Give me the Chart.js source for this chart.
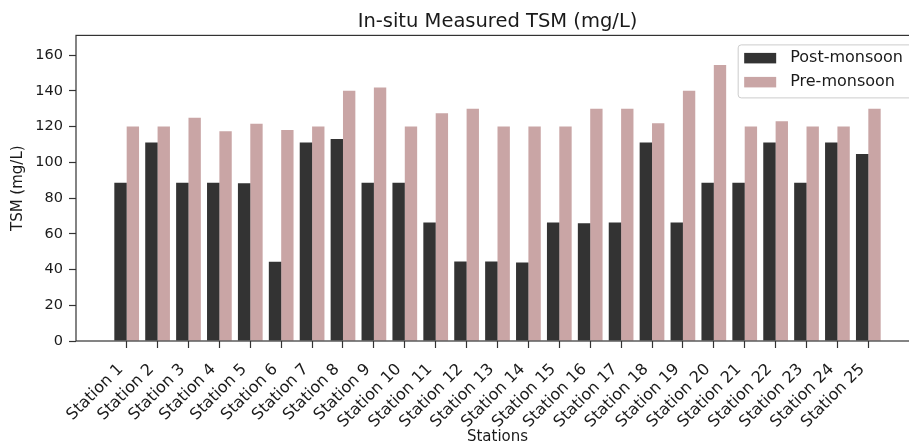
<!DOCTYPE html>
<html>
<head>
<meta charset="utf-8">
<title>In-situ Measured TSM</title>
<script src="https://cdn.jsdelivr.net/npm/chart.js@4.4.1/dist/chart.umd.min.js"></script>
<style>
  html, body { margin: 0; padding: 0; background: #fff; overflow: hidden; }
  canvas { display: block; }
</style>
</head>
<body>
<canvas id="tsmChart" width="919" height="446"></canvas>
<script>
// sampling stations along the x axis
const stations = [
  'Station 1', 'Station 2', 'Station 3', 'Station 4', 'Station 5',
  'Station 6', 'Station 7', 'Station 8', 'Station 9', 'Station 10',
  'Station 11', 'Station 12', 'Station 13', 'Station 14', 'Station 15',
  'Station 16', 'Station 17', 'Station 18', 'Station 19', 'Station 20',
  'Station 21', 'Station 22', 'Station 23', 'Station 24', 'Station 25'
];

// TSM in mg/L
const postMonsoon = [
  88.5, 111.1, 88.5, 88.5, 88.2, 44.3, 111.1, 113.1, 88.5, 88.5,
  66.3, 44.5, 44.5, 43.9, 66.3, 65.9, 66.3, 111.1, 66.3, 88.5,
  88.5, 111.1, 88.5, 111.1, 104.7
];
const preMonsoon = [
  120, 120, 124.9, 117.4, 121.5, 118, 120, 140, 141.9, 120,
  127.5, 130, 120, 120, 120, 130, 130, 121.9, 140, 154.4,
  120, 123, 120, 120, 130
];

const yTicks = [0, 20, 40, 60, 80, 100, 120, 140, 160];

const DARK = 'rgba(0, 0, 0, 0.8)';
const ROSY = 'rgba(188, 143, 143, 0.8)';
const TEXT = '#1a1a1a';

Chart.defaults.font.family = '"DejaVu Sans", sans-serif';
Chart.defaults.color = TEXT;

// full box around the plot area, drawn over the bars
const spines = {
  id: 'spines',
  afterDatasetsDraw(chart) {
    const { ctx, chartArea: a } = chart;
    ctx.save();
    ctx.strokeStyle = '#333';
    ctx.lineWidth = 1.2;
    ctx.strokeRect(a.left, a.top, a.right - a.left, a.bottom - a.top);
    ctx.restore();
  }
};

// framed legend in the upper right corner of the plot
const boxLegend = {
  id: 'boxLegend',
  afterDraw(chart) {
    const { ctx, chartArea } = chart;
    const sets = chart.data.datasets;
    ctx.save();
    ctx.font = '16px "DejaVu Sans", sans-serif';
    const textW = Math.max(...sets.map(ds => ctx.measureText(ds.label).width));
    const w = 6 + 32 + 14 + textW + 9;
    const h = 53;
    const right = chartArea.right - 7;
    const top = chartArea.top + 9.5;
    const left = right - w;

    ctx.beginPath();
    ctx.roundRect(left, top, w, h, 3);
    ctx.fillStyle = 'rgba(255, 255, 255, 0.8)';
    ctx.fill();
    ctx.strokeStyle = '#cccccc';
    ctx.lineWidth = 1;
    ctx.stroke();

    sets.forEach((ds, i) => {
      const cy = top + 13 + i * 24;
      ctx.fillStyle = ds.backgroundColor;
      ctx.fillRect(left + 6, cy - 5, 32, 10.5);
      ctx.fillStyle = TEXT;
      ctx.textBaseline = 'middle';
      ctx.textAlign = 'left';
      ctx.fillText(ds.label, left + 52, cy);
    });
    ctx.restore();
  }
};

const tickGrid = {
  drawOnChartArea: false,
  drawTicks: true,
  tickLength: 7,
  tickColor: '#333',
  tickWidth: 1.2,
  offset: false
};

new Chart(document.getElementById('tsmChart'), {
  type: 'bar',
  data: {
    datasets: [
      {
        label: 'Post-monsoon',
        data: stations.map((_, i) => ({ x: i, y: postMonsoon[i] })),
        backgroundColor: DARK,
        borderWidth: 0
      },
      {
        label: 'Pre-monsoon',
        data: stations.map((_, i) => ({ x: i, y: preMonsoon[i] })),
        backgroundColor: ROSY,
        borderWidth: 0
      }
    ]
  },
  options: {
    responsive: false,
    animation: false,
    events: [],
    categoryPercentage: 0.8,
    barPercentage: 1.0,
    layout: { padding: 0 },
    plugins: {
      legend: { display: false },
      tooltip: { enabled: false },
      title: {
        display: true,
        text: 'In-situ Measured TSM (mg/L)',
        fullSize: false,
        color: TEXT,
        font: { size: 19.5, weight: 'normal' },
        padding: { top: 10, bottom: 2 }
      }
    },
    scales: {
      x: {
        type: 'linear',
        min: -1.64,
        max: 25.64,
        offset: false,
        grid: tickGrid,
        border: { display: false },
        afterBuildTicks: s => { s.ticks = stations.map((_, i) => ({ value: i })); },
        afterFit: s => { s.height = 105; },
        ticks: {
          autoSkip: false,
          minRotation: 45,
          maxRotation: 45,
          padding: 12,
          labelOffset: -6,
          color: TEXT,
          font: { size: 16 },
          callback: v => stations[v]
        },
        title: {
          display: true,
          text: 'Stations',
          color: TEXT,
          font: { size: 15 },
          padding: 0
        }
      },
      y: {
        type: 'linear',
        min: 0,
        max: 171,
        grid: tickGrid,
        border: { display: false },
        afterBuildTicks: s => { s.ticks = yTicks.map(v => ({ value: v })); },
        afterFit: s => { s.width = 76; },
        ticks: {
          padding: 6,
          color: TEXT,
          font: { size: 14.5 }
        },
        title: {
          display: true,
          text: 'TSM (mg/L)',
          color: TEXT,
          font: { size: 15 },
          padding: { top: 9, bottom: 0 }
        }
      }
    }
  },
  plugins: [spines, boxLegend]
});
</script>
</body>
</html>
